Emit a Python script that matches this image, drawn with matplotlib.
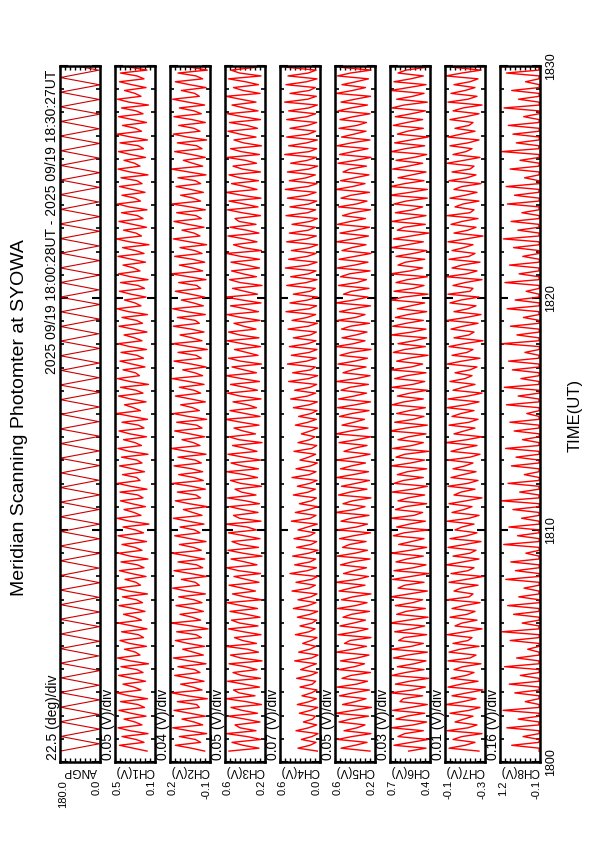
import numpy as np
import matplotlib
matplotlib.use("Agg")
import matplotlib.pyplot as plt
from matplotlib.ticker import MultipleLocator

plt.rcParams['font.family'] = ['Liberation Sans', 'DejaVu Sans']

# time span of the data, minutes after 18:00 UT
T_START = 0.47
T_END = 30.45

title = "Meridian Scanning Photomter at SYOWA"
date_text = "2025 09/19 18:00:28UT - 2025 09/19 18:30:27UT"

panel_names = ['ANGP', 'CH1(V)', 'CH2(V)', 'CH3(V)', 'CH4(V)',
               'CH5(V)', 'CH6(V)', 'CH7(V)', 'CH8(V)']
div_labels = ['22.5 (deg)/div', '0.05 (V)/div', '0.04 (V)/div', '0.05 (V)/div',
              '0.07 (V)/div', '0.05 (V)/div', '0.03 (V)/div', '0.01 (V)/div',
              '0.16 (V)/div']
y_hi = [180.0, 0.5, 0.2, 0.6, 0.6, 0.6, 0.7, -0.1, 1.2]
y_lo = [0.0, 0.1, -0.1, 0.2, 0.0, 0.2, 0.4, -0.3, -0.1]
hi_labels = ['180.0', '0.5', '0.2', '0.6', '0.6', '0.6', '0.7', '-0.1', '1.2']
lo_labels = ['0.0', '0.1', '-0.1', '0.2', '0.0', '0.2', '0.4', '-0.3', '-0.1']

time_ticks = [0, 10, 20, 30]
time_labels = ['1800', '1810', '1820', '1830']

# scan angle (deg)
ANGP = [178, 3, 176, 1, 179, 5, 177, 2, 180, 4, 175, 0, 178, 6, 179, 2, 176, 3, 180, 1,
        177, 4, 179, 0, 175, 5, 178, 2, 180, 3, 176, 1, 179, 4, 177, 0, 178, 6, 175, 2,
        180, 3, 177, 1, 179, 5, 176, 2, 178, 0, 180, 4, 175, 3, 179, 1, 177, 6, 178, 2,
        176, 0, 180, 5, 177, 3, 179, 1, 175, 4, 178, 2, 180, 0, 176, 6, 179, 3, 177, 1,
        178, 5, 175, 2, 180, 4, 176, 0, 179, 3, 177, 1, 178, 6, 176, 2]

# channel outputs (mV)
CH1 = [180, 320, 455, 210, 290, 430, 170, 350, 470, 230, 300, 410, 190, 340, 460, 205, 270, 445, 175, 360, 480, 240, 310, 420,
       195, 330, 465, 220, 280, 440, 165, 345, 475, 250, 295, 405, 185, 355, 450, 215, 265, 435, 180, 325, 470, 235, 305, 415,
       200, 315, 460, 225, 285, 425, 175, 365, 485, 245, 290, 400, 190, 335, 455, 210, 275, 440, 170, 350, 465, 230, 300, 430,
       185, 340, 470, 215, 295, 420, 160, 355, 480, 240, 310, 410, 195, 330, 445, 220, 270, 450, 180, 345, 475, 250, 285, 425,
       205, 325, 455, 230, 280, 435, 170, 360, 470, 235, 300, 415, 185, 350, 460, 210, 265, 430, 175, 335, 485, 245, 315, 405,
       190, 345, 465, 220, 290, 445, 165, 350, 475, 255, 295, 420, 200, 330, 450, 215, 280, 440, 185, 355, 470, 230, 305, 410,
       180, 320, 460, 225, 285, 430, 175, 365, 480, 240, 300, 405, 190, 340, 455, 205, 270, 445, 170, 345, 465, 250, 310, 420,
       195, 335, 470, 210, 295, 425, 160, 355, 485, 235, 290, 415, 185, 325, 460, 220, 275, 435, 180, 360, 475, 245, 300, 430,
       200, 330, 455, 230, 280, 440, 170, 350, 470, 250, 305, 410, 195, 345, 465, 215, 265, 450, 175, 340, 480, 235, 295, 425,
       185, 325, 465, 220, 290, 435, 165, 360, 475, 240, 300, 405, 190, 335, 455, 210, 280, 445, 180, 350, 470, 230, 310, 415]
CH2 = [-60, 40, 160, -30, 10, 130, -75, 60, 180, -45, 20, 110, -65, 50, 170, -20, 0, 145, -80, 70, 185, -40, 30, 120,
       -55, 45, 165, -25, 15, 140, -70, 55, 175, -50, 25, 105, -60, 65, 160, -35, 5, 150, -85, 40, 190, -30, 35, 125,
       -50, 30, 155, -40, 20, 135, -65, 75, 180, -20, 10, 115, -75, 45, 170, -45, 0, 140, -60, 60, 185, -35, 25, 130,
       -70, 50, 165, -25, 15, 125, -55, 65, 175, -40, 30, 100, -80, 55, 160, -30, 5, 145, -65, 40, 180, -50, 20, 135,
       -45, 35, 170, -35, 10, 140, -70, 70, 190, -25, 25, 110, -60, 50, 165, -40, 0, 150, -75, 65, 175, -20, 30, 120,
       -65, 45, 160, -30, 20, 130, -55, 60, 185, -45, 15, 105, -70, 40, 170, -35, 5, 140, -80, 55, 180, -40, 35, 125,
       -55, 40, 175, -20, 10, 145, -65, 75, 180, -50, 25, 115, -60, 45, 160, -30, 0, 135, -70, 60, 190, -45, 30, 130,
       -60, 30, 165, -40, 15, 125, -75, 55, 175, -25, 20, 110, -55, 65, 170, -35, 5, 150, -65, 50, 185, -30, 25, 120,
       -50, 45, 155, -30, 10, 140, -70, 60, 190, -45, 30, 100, -65, 40, 165, -40, 0, 145, -75, 70, 175, -25, 20, 135,
       -65, 35, 170, -35, 20, 130, -60, 65, 180, -20, 15, 115, -70, 55, 160, -45, 5, 140, -80, 45, 185, -35, 30, 125]
CH3 = [560, 260, 420, 530, 240, 380, 585, 290, 450, 500, 250, 400, 570, 275, 430, 540, 235, 390, 590, 300, 460, 515, 255, 410,
       575, 245, 435, 520, 280, 395, 560, 230, 445, 545, 265, 375, 595, 285, 425, 505, 240, 415, 565, 270, 455, 535, 250, 385,
       550, 275, 440, 580, 235, 405, 525, 295, 430, 560, 260, 390, 510, 245, 465, 585, 280, 400, 540, 230, 420, 570, 265, 450,
       530, 250, 410, 565, 285, 380, 590, 240, 455, 515, 270, 425, 555, 255, 395, 575, 290, 435, 500, 235, 445, 545, 275, 405,
       585, 265, 430, 540, 245, 415, 570, 280, 390, 525, 230, 460, 560, 295, 420, 510, 260, 440, 595, 250, 400, 550, 285, 375,
       520, 240, 450, 575, 275, 400, 545, 255, 435, 590, 285, 410, 530, 235, 445, 565, 270, 385, 505, 245, 425, 580, 260, 455,
       565, 290, 415, 510, 250, 440, 580, 265, 395, 545, 240, 430, 595, 275, 405, 525, 230, 450, 555, 285, 420, 535, 255, 390,
       540, 255, 445, 585, 235, 420, 515, 280, 405, 570, 260, 385, 550, 290, 460, 500, 245, 430, 575, 270, 410, 560, 240, 435,
       590, 280, 400, 535, 265, 455, 560, 245, 425, 520, 285, 395, 580, 255, 440, 545, 235, 415, 510, 290, 450, 570, 275, 380,
       555, 245, 430, 575, 270, 410, 530, 290, 445, 590, 250, 420, 515, 265, 395, 565, 240, 455, 540, 280, 425, 585, 260, 400]
CH4 = [40, 330, 150, 60, 280, 120, 30, 360, 170, 50, 250, 110, 70, 310, 140, 35, 340, 160, 55, 270, 130, 45, 300, 115,
       65, 350, 145, 40, 290, 175, 55, 380, 125, 30, 320, 155, 60, 260, 135, 45, 370, 165, 75, 300, 120, 50, 340, 150,
       35, 400, 180, 60, 330, 140, 45, 420, 160, 70, 360, 125, 40, 450, 190, 55, 380, 150, 65, 410, 170, 30, 350, 135,
       50, 390, 155, 75, 330, 185, 40, 430, 145, 60, 370, 165, 35, 310, 130, 55, 400, 175, 70, 340, 150, 45, 420, 160,
       60, 360, 140, 40, 300, 170, 65, 390, 125, 50, 330, 155, 75, 280, 145, 35, 370, 180, 55, 320, 135, 45, 400, 160,
       40, 440, 190, 65, 380, 150, 50, 470, 170, 35, 410, 140, 70, 490, 200, 55, 430, 160, 45, 460, 180, 60, 400, 145,
       55, 480, 175, 40, 420, 195, 65, 510, 160, 50, 450, 185, 35, 400, 150, 70, 500, 205, 45, 440, 170, 60, 520, 180,
       45, 470, 190, 60, 430, 160, 35, 500, 200, 55, 460, 175, 70, 420, 150, 40, 510, 185, 65, 450, 165, 50, 490, 195,
       60, 520, 180, 45, 460, 205, 70, 490, 170, 35, 440, 190, 55, 530, 160, 50, 470, 200, 40, 500, 175, 65, 450, 185,
       50, 500, 195, 65, 470, 170, 40, 530, 185, 55, 450, 160, 70, 510, 200, 45, 480, 175, 60, 520, 190, 35, 460, 180]
CH5 = [250, 540, 400, 280, 575, 430, 240, 510, 380, 300, 560, 445, 265, 590, 410, 235, 525, 395, 290, 555, 420, 255, 580, 385,
       275, 530, 440, 245, 565, 405, 305, 545, 375, 260, 585, 425, 285, 505, 450, 240, 570, 390, 270, 550, 415, 295, 520, 435,
       255, 575, 395, 280, 535, 420, 240, 560, 445, 300, 590, 380, 265, 515, 410, 285, 545, 430, 250, 580, 400, 275, 525, 455,
       290, 555, 415, 245, 570, 385, 275, 540, 440, 260, 595, 405, 300, 520, 425, 240, 565, 450, 280, 535, 390, 255, 585, 420,
       265, 545, 435, 295, 580, 400, 250, 510, 420, 280, 560, 380, 240, 590, 445, 270, 530, 410, 305, 555, 430, 260, 575, 395,
       245, 565, 410, 285, 540, 450, 265, 585, 385, 250, 520, 425, 290, 570, 405, 275, 550, 440, 240, 595, 415, 300, 530, 390,
       280, 535, 445, 255, 575, 395, 300, 555, 420, 245, 590, 410, 270, 515, 435, 260, 565, 380, 285, 545, 455, 250, 580, 405,
       270, 560, 400, 240, 530, 430, 290, 585, 415, 265, 550, 390, 255, 575, 445, 295, 525, 420, 245, 565, 385, 280, 540, 440,
       255, 590, 425, 300, 545, 405, 260, 520, 450, 285, 570, 395, 240, 555, 420, 270, 580, 435, 250, 535, 410, 290, 560, 380,
       285, 550, 415, 250, 570, 440, 275, 540, 400, 245, 585, 425, 295, 530, 390, 265, 575, 445, 240, 555, 410, 280, 595, 430]
CH6 = [560, 430, 670, 540, 415, 640, 590, 450, 690, 525, 425, 655, 575, 440, 680, 545, 420, 625, 600, 455, 695, 530, 435, 660,
       555, 410, 685, 585, 445, 645, 520, 430, 675, 570, 420, 690, 540, 450, 635, 595, 425, 665, 535, 440, 700, 565, 415, 650,
       580, 435, 660, 530, 455, 695, 560, 420, 640, 590, 445, 680, 545, 410, 670, 525, 430, 655, 575, 450, 690, 550, 425, 635,
       540, 445, 675, 595, 415, 650, 555, 435, 695, 520, 455, 660, 585, 425, 640, 565, 440, 685, 530, 420, 670, 600, 450, 645,
       570, 425, 690, 545, 440, 655, 590, 410, 680, 535, 450, 640, 560, 430, 700, 580, 420, 665, 525, 445, 650, 555, 435, 685,
       595, 450, 645, 550, 420, 685, 530, 440, 665, 575, 430, 695, 540, 455, 650, 560, 415, 675, 590, 435, 640, 520, 425, 690,
       535, 430, 680, 580, 450, 660, 565, 425, 645, 545, 440, 690, 600, 415, 670, 525, 445, 655, 570, 420, 695, 550, 455, 640,
       585, 440, 655, 525, 425, 690, 570, 450, 675, 540, 410, 645, 595, 435, 685, 555, 430, 660, 530, 455, 670, 580, 420, 700,
       550, 420, 695, 590, 445, 640, 535, 430, 680, 565, 455, 655, 520, 425, 690, 585, 440, 665, 545, 415, 645, 570, 450, 675,
       575, 455, 660, 540, 435, 685, 595, 420, 650, 530, 445, 695, 560, 430, 670, 545, 450, 640, 580, 425, 690, 525, 440, 655]
CH7 = [-270, -120, -200, -250, -140, -185, -285, -110, -215, -260, -150, -195, -240, -125, -220, -275, -105, -190, -255, -135, -210, -290, -115, -180,
       -265, -130, -205, -245, -145, -190, -280, -115, -225, -255, -120, -175, -270, -140, -215, -235, -110, -200, -285, -150, -185, -260, -125, -210,
       -250, -135, -195, -275, -110, -220, -240, -145, -180, -265, -120, -205, -290, -130, -215, -245, -105, -190, -270, -140, -225, -255, -115, -200,
       -280, -125, -210, -260, -150, -185, -245, -110, -220, -270, -135, -195, -235, -120, -205, -285, -145, -180, -250, -115, -215, -265, -130, -190,
       -255, -140, -200, -240, -115, -225, -275, -130, -185, -260, -105, -210, -285, -145, -195, -250, -120, -220, -265, -135, -180, -245, -110, -205,
       -270, -115, -215, -285, -140, -190, -250, -125, -200, -235, -150, -225, -260, -110, -185, -275, -135, -210, -240, -120, -195, -290, -145, -220,
       -245, -130, -190, -265, -110, -205, -280, -145, -215, -255, -125, -180, -270, -115, -225, -240, -140, -200, -285, -105, -210, -260, -135, -185,
       -275, -120, -220, -250, -135, -195, -240, -115, -205, -290, -145, -215, -255, -130, -185, -265, -110, -225, -245, -150, -190, -270, -125, -200,
       -260, -145, -185, -280, -120, -210, -255, -135, -225, -245, -110, -195, -275, -140, -205, -235, -125, -215, -270, -115, -180, -250, -150, -220,
       -240, -125, -205, -270, -140, -190, -285, -115, -215, -260, -130, -200, -250, -145, -225, -265, -105, -185, -280, -135, -210, -245, -120, -195]
CH8 = [-70, -75, 820, -65, -80, 450, -70, -75, 980, -60, -70, 610, -80, -65, 1100, -70, -75, 380, -65, -70, 720, -80, -70, 900,
       -75, -65, 540, -70, -80, 1050, -65, -70, 660, -75, -70, 300, -80, -65, 870, -70, -75, 1130, -60, -70, 480, -75, -80, 760,
       -65, -70, 950, -80, -75, 590, -70, -65, 420, -75, -70, 1010, -60, -80, 700, -70, -75, 850, -65, -70, 360, -80, -65, 1080,
       -70, -75, 630, -65, -60, 910, -80, -70, 500, -75, -65, 780, -70, -80, 1150, -65, -70, 560, -75, -60, 940, -70, -80, 410,
       -65, -75, 830, -70, -70, 680, -80, -65, 1020, -60, -75, 470, -70, -80, 740, -65, -70, 880, -75, -65, 330, -80, -70, 990,
       -70, -60, 610, -75, -80, 1060, -65, -70, 520, -70, -75, 800, -80, -65, 920, -60, -70, 390, -75, -80, 1120, -65, -70, 650,
       -80, -70, 860, -65, -75, 440, -70, -60, 970, -75, -80, 710, -65, -70, 350, -80, -75, 1040, -70, -65, 580, -60, -70, 890,
       -75, -80, 460, -70, -65, 760, -80, -70, 1090, -65, -75, 620, -70, -60, 840, -75, -80, 490, -65, -70, 960, -70, -75, 730,
       -60, -70, 1000, -80, -65, 400, -70, -75, 870, -65, -80, 550, -75, -70, 1140, -60, -65, 670, -70, -80, 780, -75, -70, 930,
       -65, -75, 430, -70, -60, 1070, -80, -70, 600, -75, -65, 820, -70, -80, 370, -65, -75, 990, -60, -70, 700, -80, -65, 880]

series = [np.array(ANGP, float)] + [np.array(c, float) / 1000.0
                                    for c in (CH1, CH2, CH3, CH4, CH5, CH6, CH7, CH8)]
line_colors = ['#cc0000'] + ['#ff0000'] * 8
line_widths = [0.8] + [1.0] * 8

W, H = 595, 842
fig = plt.figure(figsize=(W / 100, H / 100), dpi=100)


def fx(px):
    return px / W


def fy(py):
    return 1 - py / H


# panel layout in pixels (the whole chart is drawn turned on its side)
TOP, BOTTOM = 66, 762
PW = 40
for i, vals in enumerate(series):
    left = 60 + 55 * i
    ax = fig.add_axes([fx(left), fy(BOTTOM), PW / W, (BOTTOM - TOP) / H])
    t = np.linspace(T_START, T_END, len(vals))
    ax.plot(vals, t, color=line_colors[i], lw=line_widths[i])
    ax.set_xlim(y_hi[i], y_lo[i])
    ax.set_ylim(0, 30)
    for s in ax.spines.values():
        s.set_linewidth(1.8)
    ax.yaxis.set_major_locator(MultipleLocator(10))
    ax.yaxis.set_minor_locator(MultipleLocator(1))
    ax.set_xticks(np.linspace(y_lo[i], y_hi[i], 9))
    ax.tick_params(axis='both', which='both', direction='in', left=True, right=True,
                   top=True, bottom=True, labelleft=False, labelbottom=False)
    ax.tick_params(axis='y', which='major', length=6, width=1.5)
    ax.tick_params(axis='y', which='minor', length=3, width=1.2)
    ax.tick_params(axis='x', which='major', length=3, width=1.0)

    fig.text(fx(left - 7), fy(760), div_labels[i], rotation=90,
             ha='center', va='bottom', fontsize=10)
    fig.text(fx(left + PW / 2), fy(771), panel_names[i], rotation=180,
             ha='center', va='center', fontsize=8.5)
    fig.text(fx(left + 3), fy(780), hi_labels[i], rotation=90,
             ha='center', va='top', fontsize=8)
    fig.text(fx(left + PW - 3), fy(780), lo_labels[i], rotation=90,
             ha='center', va='top', fontsize=8)

for tt, lab in zip(time_ticks, time_labels):
    ypix = BOTTOM - tt * (BOTTOM - TOP) / 30
    fig.text(fx(551), fy(ypix), lab, rotation=90, ha='center', va='center', fontsize=9)

fig.text(fx(575), fy(415), 'TIME(UT)', rotation=90, ha='center', va='center', fontsize=12)
fig.text(fx(20), fy(418), title, rotation=90, ha='center', va='center', fontsize=14)
fig.text(fx(52), fy(70), date_text, rotation=90, ha='center', va='top', fontsize=10)

fig.savefig('out.png', dpi=100, facecolor='white')
